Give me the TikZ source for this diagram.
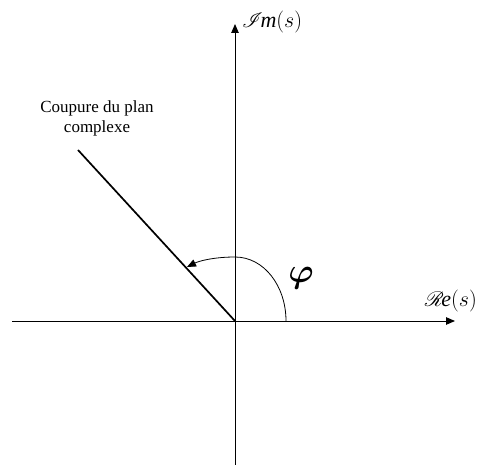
\RequirePackage{fix-cm}
\documentclass[tikz,border=0pt]{standalone}
\usepackage{amsmath}
\usepackage{fontspec}
\usepackage{mathrsfs}
\setmainfont{Liberation Serif}
\usetikzlibrary{arrows.meta}
\begin{document}
\begin{tikzpicture}[x=1pt,y=-1pt,
  axis/.style={line width=0.9pt,-{Triangle[length=9pt,width=7.5pt]}},
  cutline/.style={line width=1.7pt},
  anglearc/.style={line width=0.8pt,-{Triangle[length=9pt,width=7.5pt]}},
  lbl/.style={inner sep=0pt,font=\fontsize{17}{20}\selectfont},
  mlbl/.style={inner sep=0pt,font=\fontsize{22}{24}\selectfont}]
\useasboundingbox (0,0) rectangle (477,465);
\coordinate (O) at (235,321);
\coordinate (xl) at (12,321);
\coordinate (xr) at (455,321);
\coordinate (yb) at (235,465);
\coordinate (yt) at (235,24);
\coordinate (cutend) at (78,150);
\coordinate (arcstart) at (286,321);
\coordinate (arctop) at (235,257);
\coordinate (arcend) at (187,267);
\draw[axis] (xl) -- (xr);
\draw[axis] (yb) -- (yt);
\draw[cutline] (O) -- (cutend);
\draw[anglearc] (arcstart) .. controls (286,286) and (264,257) .. (arctop)
   .. controls (214,257) and (199,261) .. (arcend);
\node[mlbl,anchor=west] (im) at (242,22) {$\mathscr{I}\mkern-2mu\mathit{m}(s)$};
\node[mlbl,anchor=east] (re) at (477,301) {$\mathscr{R}\mkern-2mu\mathit{e}(s)$};
\node[lbl,align=center] (cut) at (97,118) {Coupure du plan\\complexe};
\node[inner sep=0pt,font=\fontsize{34}{34}\selectfont] (phi) at (301,278) {$\boldsymbol{\varphi}$};
\end{tikzpicture}
\end{document}
